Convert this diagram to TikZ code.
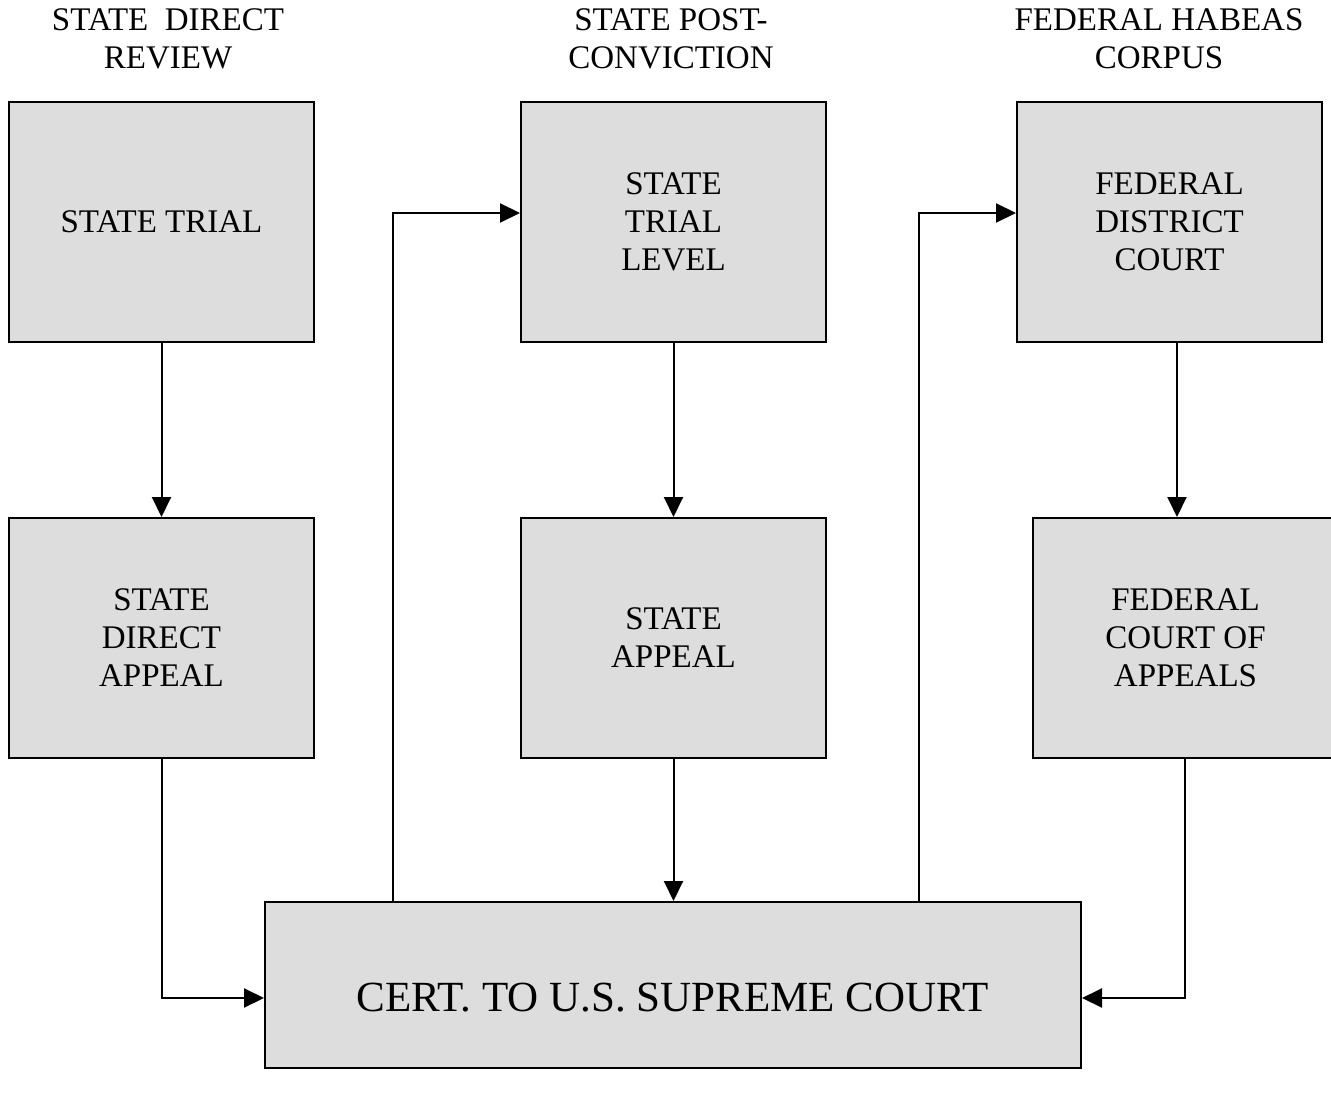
\documentclass[tikz,border=0pt]{standalone}
\usepackage{fontspec}
\setmainfont{Liberation Serif}
\usetikzlibrary{arrows.meta,calc}
\begin{document}
\begin{tikzpicture}[x=1pt,y=-1pt,
  box/.style={draw=black,fill={rgb,255:red,221;green,221;blue,221},line width=2pt,
    rectangle,inner sep=0pt,align=center,minimum width=305pt,minimum height=240pt,
    font=\fontsize{33}{38}\selectfont},
  hdr/.style={align=center,inner sep=0pt,font=\fontsize{33}{38}\selectfont},
  arr/.style={line width=2pt,-{Triangle[length=20pt,width=19pt]}}]
\useasboundingbox (0,0) rectangle (1331,1099);
\clip (0,0) rectangle (1331,1099);
% headers
\node[hdr] (h1) at (168,39) {STATE\ \ DIRECT\\REVIEW};
\node[hdr] (h2) at (671,39) {STATE POST-\\CONVICTION};
\node[hdr] (h3) at (1159,39) {FEDERAL HABEAS\\CORPUS};
% boxes
\node[box] (st)  at (161.5,222) {STATE TRIAL};
\node[box] (sda) at (161.5,638) {STATE\\DIRECT\\APPEAL};
\node[box] (stl) at (673.5,222) {STATE\\TRIAL\\LEVEL};
\node[box] (sa)  at (673.5,638) {STATE\\APPEAL};
\node[box] (fdc) at (1169.5,222) {FEDERAL\\DISTRICT\\COURT};
\node[box] (fca) at (1185.5,638) {FEDERAL\\COURT OF\\APPEALS};
\node[box,minimum width=816pt,minimum height=166pt,
  label={[font=\fontsize{43}{48}\selectfont,yshift=-13pt]center:CERT. TO U.S. SUPREME COURT}]
  (cert) at (673,985) {};
% connectors
\coordinate (cl) at ($(cert.west)+(0,13)$);
\coordinate (cr) at ($(cert.east)+(0,13)$);
\coordinate (c1) at ($(cert.north west)+(129,0)$);
\coordinate (c2) at ($(cert.north west)+(655,0)$);
\coordinate (stlin) at ($(stl.west)+(0,-9)$);
\coordinate (fdcin) at ($(fdc.west)+(0,-9)$);
\coordinate (fdcout) at ($(fdc.south)+(7.5,0)$);
\coordinate (fcaout) at ($(fca.south)+(-0.5,0)$);
\draw[arr] (st) -- (sda);
\draw[arr] (sda.south) |- (cl);
\draw[arr] (stl) -- (sa);
\draw[arr] (sa.south) -- (sa.south |- cert.north);
\draw[arr] (c1) |- (stlin);
\draw[arr] (c2) |- (fdcin);
\draw[arr] (fdcout) -- (fdcout |- fca.north);
\draw[arr] (fcaout) |- (cr);
\end{tikzpicture}
\end{document}
